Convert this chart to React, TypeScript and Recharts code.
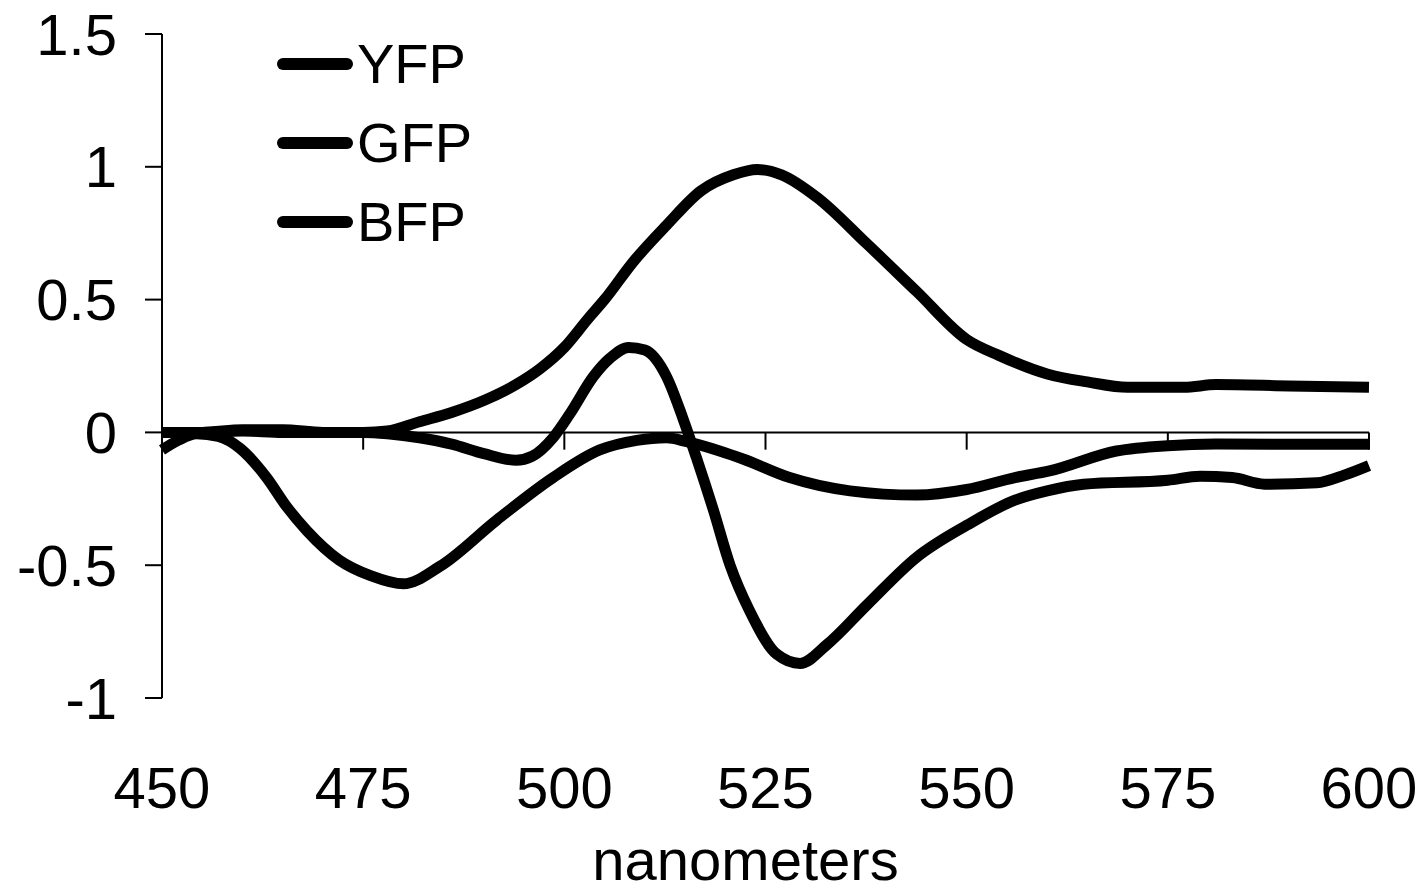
import { LineChart, Line, XAxis, YAxis, ReferenceLine } from 'recharts';

const FONT = '"Liberation Sans", Arial, sans-serif';

// wavelength ticks and y ticks
const NM_TICKS = [450, 475, 500, 525, 550, 575, 600];
const Y_TICKS = [-1, -0.5, 0, 0.5, 1, 1.5];
const NM_MARKS = [475, 500, 525, 550, 575, 600];

// series
const YFP_NM = [450, 455, 460, 465, 470, 475, 478, 482, 486, 490, 494, 497, 500, 503, 505, 508.5, 512.7, 517, 521, 524, 527, 531.4, 537.6, 543.8, 550, 554, 560, 565, 570, 577, 581, 590, 600];
const YFP_VAL = [0, 0, 0.01, 0.01, 0, 0, 0.005, 0.04, 0.075, 0.12, 0.18, 0.24, 0.32, 0.43, 0.5, 0.64, 0.78, 0.91, 0.97, 0.99, 0.97, 0.885, 0.71, 0.53, 0.35, 0.29, 0.22, 0.19, 0.17, 0.17, 0.18, 0.175, 0.17];

const GFP_NM = [450, 455, 460, 465, 470, 475, 478, 482, 486, 490, 494, 496, 498.6, 500.7, 503.6, 505.7, 508, 510, 512.7, 514.7, 516.4, 518.5, 520.6, 523, 526.4, 529.3, 532.6, 537.6, 543.8, 550, 556, 560, 564.5, 575, 579, 583, 587, 593.5, 597, 600];
const GFP_VAL = [0, 0, 0.005, 0, 0, 0, -0.005, -0.02, -0.044, -0.08, -0.105, -0.09, -0.02, 0.07, 0.21, 0.28, 0.32, 0.31, 0.21, 0.056, -0.094, -0.29, -0.5, -0.67, -0.835, -0.87, -0.8, -0.65, -0.47, -0.35, -0.255, -0.22, -0.195, -0.18, -0.165, -0.17, -0.195, -0.19, -0.16, -0.125];

const BFP_NM = [450, 452, 454.3, 457, 459.7, 463, 465.5, 468, 472, 476, 480, 484.5, 491.6, 498.6, 504.4, 509, 512.7, 515.2, 519.3, 522.2, 528, 535.5, 543.8, 550, 556, 560.3, 568.6, 575, 581, 600];
const BFP_VAL = [-0.066, -0.03, -0.005, -0.015, -0.06, -0.17, -0.28, -0.37, -0.48, -0.54, -0.57, -0.505, -0.33, -0.17, -0.066, -0.03, -0.02, -0.035, -0.07, -0.1, -0.17, -0.22, -0.236, -0.215, -0.17, -0.145, -0.07, -0.05, -0.044, -0.045];

const toRows = (nm: number[], val: number[]) => nm.map((n, i) => ({ nm: n, v: val[i] }));

const series = [
  { name: 'YFP', data: toRows(YFP_NM, YFP_VAL) },
  { name: 'GFP', data: toRows(GFP_NM, GFP_VAL) },
  { name: 'BFP', data: toRows(BFP_NM, BFP_VAL) },
];

// legend kept outside the chart so it doesn't eat into the plot offset
function LegendBox() {
  return (
    <div style={{ position: 'absolute', left: 277, top: 24, fontFamily: FONT }}>
      {series.map((s) => (
        <div key={s.name} style={{ display: 'flex', alignItems: 'center', height: 79 }}>
          <div style={{ width: 76, height: 12, background: '#000', borderRadius: 6 }} />
          <span style={{ fontSize: 56, color: '#000', marginLeft: 4, lineHeight: 1 }}>{s.name}</span>
        </div>
      ))}
    </div>
  );
}

export default function App() {
  return (
    <div style={{ position: 'absolute', left: 0, top: 0, width: 1428, height: 891, background: '#fff' }}>
      <LineChart width={1428} height={891} margin={{ top: 34, right: 59, left: 0, bottom: 0 }}>
        <XAxis
          dataKey="nm"
          type="number"
          domain={[450, 600]}
          ticks={NM_TICKS}
          allowDuplicatedCategory={false}
          axisLine={false}
          tickLine={false}
          tickSize={0}
          tickMargin={69}
          height={193}
          tick={{ fill: '#000', fontSize: 58, fontFamily: FONT }}
          label={{
            content: ({ viewBox }: any) => (
              <text
                x={viewBox.x + viewBox.width / 2 - 20}
                y={viewBox.y + 182}
                textAnchor="middle"
                fontSize={58}
                fontFamily={FONT}
                fill="#000"
              >
                nanometers
              </text>
            ),
          }}
        />
        <YAxis
          type="number"
          domain={[-1, 1.5]}
          ticks={Y_TICKS}
          width={162}
          axisLine={{ stroke: '#000', strokeWidth: 2 }}
          tickLine={{ stroke: '#000', strokeWidth: 2 }}
          tickSize={17}
          tickMargin={28}
          tick={{ fill: '#000', fontSize: 58, fontFamily: FONT }}
        />
        <ReferenceLine y={0} stroke="#000" strokeWidth={2} />
        {NM_MARKS.map((m) => (
          <ReferenceLine
            key={m}
            segment={[{ x: m, y: 0 }, { x: m, y: -0.065 }]}
            stroke="#000"
            strokeWidth={2}
          />
        ))}
        {series.map((s) => (
          <Line
            key={s.name}
            name={s.name}
            data={s.data}
            dataKey="v"
            type="monotone"
            stroke="#000"
            strokeWidth={11}
            dot={false}
            activeDot={false}
            isAnimationActive={false}
          />
        ))}
      </LineChart>
      <LegendBox />
    </div>
  );
}
